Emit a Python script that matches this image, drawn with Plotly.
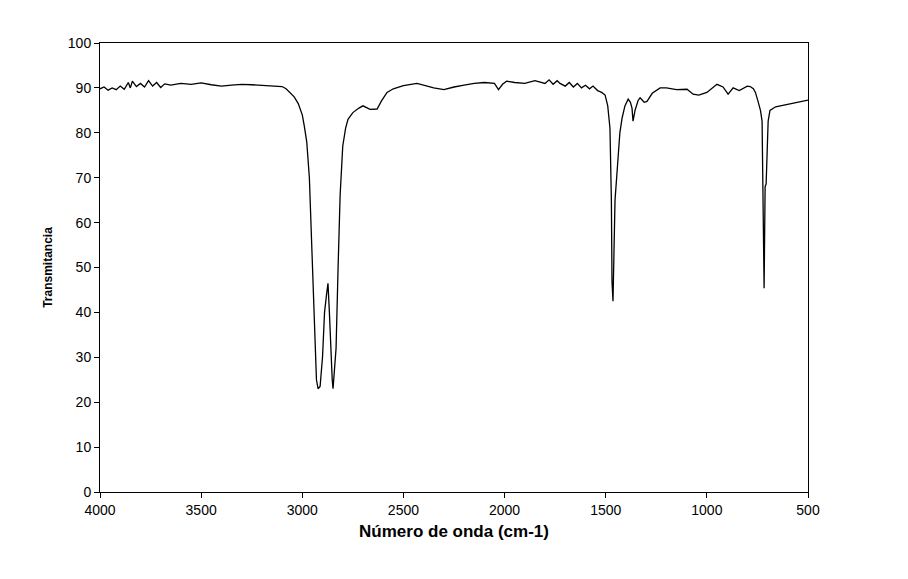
import plotly.graph_objects as go

wavenumber = [4000, 3980, 3960, 3940, 3920, 3900, 3880, 3860, 3850, 3840, 3820, 3800, 3780, 3760,
              3740, 3720, 3700, 3680, 3650, 3600, 3550, 3500, 3450, 3400, 3350, 3300, 3250, 3200,
              3150, 3100, 3080, 3060, 3040, 3020, 3000, 2990, 2978, 2965, 2952, 2940, 2930, 2922,
              2912, 2900, 2890, 2880, 2873, 2866, 2858, 2852, 2848, 2842, 2833, 2823, 2813, 2800,
              2786, 2774, 2750, 2720, 2700, 2665, 2630, 2610, 2581, 2550, 2500, 2433, 2400, 2350,
              2300, 2250, 2200, 2150, 2100, 2050, 2030, 2010, 1990, 1950, 1900, 1850, 1800, 1780,
              1760, 1740, 1726, 1700, 1680, 1660, 1640, 1620, 1600, 1580, 1563, 1540, 1520, 1503,
              1490, 1479, 1472, 1469, 1464, 1459, 1454, 1446, 1439, 1430, 1419, 1405, 1389, 1378,
              1370, 1365, 1355, 1340, 1330, 1310, 1296, 1270, 1231, 1200, 1150, 1098, 1068, 1040,
              1000, 950, 920, 895, 870, 840, 800, 786, 770, 760, 747, 735, 727, 722, 717, 712,
              707, 697, 688, 660, 620, 580, 540, 500]
transmittance = [89.8, 90.2, 89.5, 90.0, 89.6, 90.4, 89.7, 91.2, 90.0, 91.5, 90.3, 91.0, 90.2, 91.6,
                 90.4, 91.2, 90.1, 90.9, 90.6, 91.0, 90.8, 91.1, 90.7, 90.4, 90.6, 90.8, 90.7, 90.6,
                 90.5, 90.3, 89.8, 89.0, 88.0, 86.5, 84.0, 81.5, 78.0, 70.0, 53.0, 35.0, 25.0, 23.0,
                 23.5, 30.0, 40.0, 44.0, 46.5, 40.0, 30.0, 25.0, 23.0, 26.0, 32.0, 50.0, 66.0, 77.0,
                 81.0, 83.0, 84.5, 85.5, 86.0, 85.2, 85.3, 87.0, 89.0, 89.8, 90.5, 91.0, 90.6, 90.0,
                 89.6, 90.2, 90.6, 91.0, 91.2, 91.0, 89.6, 90.8, 91.5, 91.2, 91.0, 91.6, 91.0, 91.8,
                 90.8, 91.6, 91.0, 90.4, 91.2, 90.2, 91.0, 90.0, 90.6, 89.8, 90.4, 89.4, 89.0, 88.4,
                 86.0, 81.0, 65.0, 47.0, 42.5, 55.0, 65.0, 70.0, 75.0, 80.0, 83.3, 86.0, 87.5, 86.8,
                 85.5, 82.6, 85.0, 87.2, 87.8, 86.8, 87.0, 88.8, 90.0, 90.0, 89.6, 89.7, 88.6, 88.4,
                 89.0, 90.8, 90.2, 88.6, 90.0, 89.4, 90.4, 90.3, 89.8, 89.0, 87.0, 85.0, 82.6, 68.6,
                 45.4, 68.0, 68.6, 82.6, 85.0, 85.8, 86.2, 86.6, 87.0, 87.3]

fig = go.Figure(go.Scatter(x=wavenumber, y=transmittance, mode="lines",
                           line=dict(color="black", width=1.3)))

fig.update_layout(
    width=908, height=579, margin=dict(l=92, r=108, t=35, b=95),
    plot_bgcolor="white", paper_bgcolor="white", showlegend=False,
    font=dict(family="Liberation Sans, Arial, sans-serif", color="black", size=14),
)
fig.update_xaxes(range=[4000, 500], tickvals=list(range(500, 4001, 500)),
                 showgrid=False, zeroline=False, showline=True, linecolor="black",
                 linewidth=1, mirror=True, ticks="outside", ticklen=5, tickcolor="black",
                 title=dict(text="<b>Número de onda (cm-1)</b>", standoff=8))
fig.update_yaxes(range=[0, 100], tickvals=list(range(0, 101, 10)),
                 showgrid=False, zeroline=False, showline=True, linecolor="black",
                 linewidth=1, mirror=True, ticks="outside", ticklen=5, tickcolor="black",
                 title=dict(text="<b>Transmitancia</b>", font=dict(size=12), standoff=12))

fig.write_html("out.html")
